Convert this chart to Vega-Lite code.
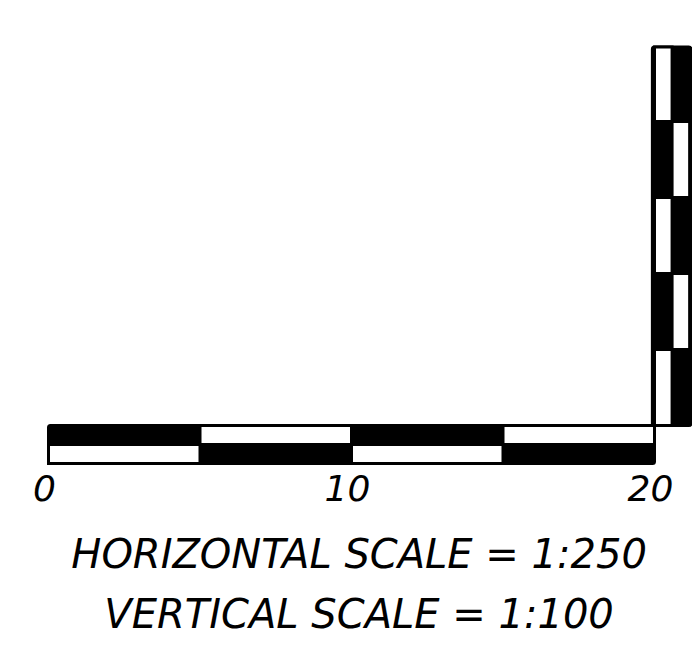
{
  "$schema": "https://vega.github.io/schema/vega-lite/v6.json",
  "width": 692,
  "height": 646,
  "padding": 0,
  "autosize": {"type": "none"},
  "background": "white",
  "view": {"stroke": null},
  "datasets": {
    "bars": [
      {"bar": "horizontal", "x": 0, "x2": 20, "y": -0.5, "y2": 0},
      {"bar": "vertical", "x": 19.93, "x2": 21.2, "y": 0, "y2": 4.98}
    ],
    "cells": [
      {"bar": "horizontal", "row": "upper", "x": 5, "x2": 10, "y": -0.25, "y2": 0},
      {"bar": "horizontal", "row": "upper", "x": 15, "x2": 20, "y": -0.25, "y2": 0},
      {"bar": "horizontal", "row": "lower", "x": 0, "x2": 5, "y": -0.5, "y2": -0.25},
      {"bar": "horizontal", "row": "lower", "x": 10, "x2": 15, "y": -0.5, "y2": -0.25},
      {"bar": "vertical", "row": "left", "x": 20, "x2": 20.58, "y": 0, "y2": 1},
      {"bar": "vertical", "row": "left", "x": 20, "x2": 20.58, "y": 2, "y2": 3},
      {"bar": "vertical", "row": "left", "x": 20, "x2": 20.58, "y": 4, "y2": 4.98},
      {"bar": "vertical", "row": "right", "x": 20.58, "x2": 21.16, "y": 1, "y2": 2},
      {"bar": "vertical", "row": "right", "x": 20.58, "x2": 21.16, "y": 3, "y2": 4}
    ],
    "ticks": [
      {"x": 0, "label": "0"},
      {"x": 10, "label": "10"},
      {"x": 20, "label": "20"}
    ]
  },
  "layer": [
    {
      "data": {"name": "bars"},
      "mark": {"type": "rect", "fill": "black", "stroke": "black", "strokeWidth": 3, "cornerRadius": 2},
      "encoding": {
        "x": {"field": "x", "type": "quantitative", "scale": {"domain": [-1.6007, 21.2376], "nice": false, "zero": false}, "axis": null},
        "x2": {"field": "x2"},
        "y": {"field": "y", "type": "quantitative", "scale": {"domain": [-2.9013, 5.5987], "nice": false, "zero": false}, "axis": null},
        "y2": {"field": "y2"}
      }
    },
    {
      "data": {"name": "cells"},
      "mark": {"type": "rect", "fill": "white", "stroke": "black", "strokeWidth": 3},
      "encoding": {
        "x": {"field": "x", "type": "quantitative", "scale": {"domain": [-1.6007, 21.2376], "nice": false, "zero": false}, "axis": null},
        "x2": {"field": "x2"},
        "y": {"field": "y", "type": "quantitative", "scale": {"domain": [-2.9013, 5.5987], "nice": false, "zero": false}, "axis": null},
        "y2": {"field": "y2"}
      }
    },
    {
      "data": {"name": "ticks"},
      "mark": {"type": "text", "font": "DejaVu Sans", "fontStyle": "italic", "fontSize": 36, "align": "center", "baseline": "alphabetic", "dx": -4, "color": "black"},
      "encoding": {
        "x": {"field": "x", "type": "quantitative", "scale": {"domain": [-1.6007, 21.2376], "nice": false, "zero": false}, "axis": null},
        "y": {"datum": -0.993, "type": "quantitative", "scale": {"domain": [-2.9013, 5.5987], "nice": false, "zero": false}, "axis": null},
        "text": {"field": "label"}
      }
    },
    {
      "data": {"values": [{"label": "HORIZONTAL SCALE = 1:250"}]},
      "mark": {"type": "text", "font": "DejaVu Sans", "fontStyle": "italic", "fontSize": 40, "align": "center", "baseline": "alphabetic", "color": "black"},
      "encoding": {
        "x": {"datum": 10.25, "type": "quantitative", "scale": {"domain": [-1.6007, 21.2376], "nice": false, "zero": false}, "axis": null},
        "y": {"datum": -1.875, "type": "quantitative", "scale": {"domain": [-2.9013, 5.5987], "nice": false, "zero": false}, "axis": null},
        "text": {"field": "label"}
      }
    },
    {
      "data": {"values": [{"label": "VERTICAL SCALE = 1:100"}]},
      "mark": {"type": "text", "font": "DejaVu Sans", "fontStyle": "italic", "fontSize": 40, "align": "center", "baseline": "alphabetic", "color": "black"},
      "encoding": {
        "x": {"datum": 10.25, "type": "quantitative", "scale": {"domain": [-1.6007, 21.2376], "nice": false, "zero": false}, "axis": null},
        "y": {"datum": -2.664, "type": "quantitative", "scale": {"domain": [-2.9013, 5.5987], "nice": false, "zero": false}, "axis": null},
        "text": {"field": "label"}
      }
    }
  ]
}
